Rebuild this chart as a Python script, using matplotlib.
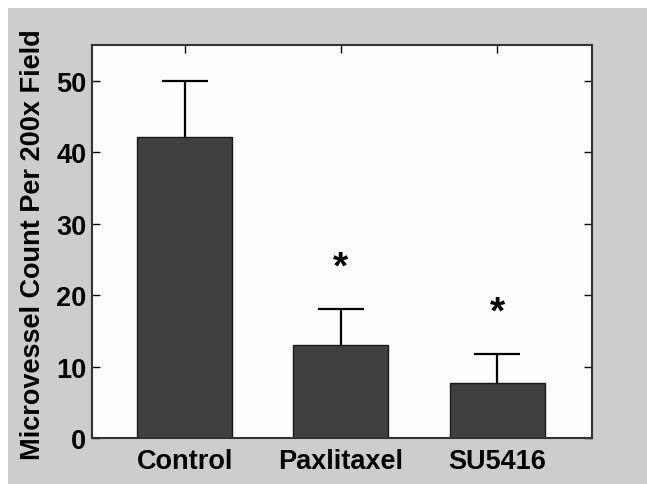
import matplotlib
matplotlib.use("Agg")
import matplotlib.pyplot as plt
from matplotlib.patches import Rectangle
import numpy as np

categories = ["Control", "Paxlitaxel", "SU5416"]
means = [42.1, 13.0, 7.7]
err_upper = [7.9, 5.0, 4.1]
star_y = [None, 23.8, 17.5]
yticks = [0, 10, 20, 30, 40, 50]
ylabel = "Microvessel Count Per 200x Field"

plt.rcParams['font.family'] = ['Liberation Sans', 'DejaVu Sans']
plt.rcParams['font.weight'] = 'bold'

W, H = 647, 485
fig = plt.figure(figsize=(W / 100, H / 100), dpi=100)
fig.patch.set_facecolor('white')
fig.patches.append(Rectangle((8 / W, 0), 1 - 8 / W, 1 - 9 / H, transform=fig.transFigure,
                             facecolor='#cdcdcd', edgecolor='none', zorder=-10))

ax = fig.add_axes([92 / W, (H - 439) / H, (592 - 92) / W, (439 - 46) / H])
ax.set_zorder(5)
ax.set_facecolor('#fdfdfd')

x = np.arange(1, len(categories) + 1)
eb = ax.errorbar(x, means, yerr=[np.zeros(len(means)), err_upper], fmt='none',
                 ecolor='black', elinewidth=1.6, capsize=16.5, capthick=1.6, zorder=1)
for cl in eb.lines[1]:
    if np.allclose(np.asarray(cl.get_ydata(), dtype=float), np.asarray(means)):
        cl.set_visible(False)
ax.bar(x, means, width=0.607, color='#404040', edgecolor='#1a1a1a', linewidth=1.0, zorder=2)

for xi, sy in zip(x, star_y):
    if sy is not None:
        ax.text(xi, sy, "*", ha='center', va='center', fontsize=28, fontweight='bold', zorder=3)

ax.set_xlim(0.407, 3.607)
ax.set_ylim(0, 55)
ax.set_yticks(yticks)
ax.set_xticks(x)
ax.set_xticklabels(categories)
ax.tick_params(axis='both', direction='in', length=6, width=1.0, labelsize=19.5, colors='black')
ax.tick_params(axis='y', right=True, left=True, pad=4)
ax.tick_params(axis='x', top=True, bottom=False, pad=7)
for lab in ax.get_xticklabels() + ax.get_yticklabels():
    lab.set_fontweight('bold')
for sp in ax.spines.values():
    sp.set_color('#333333')
    sp.set_linewidth(1.5)

fig.text(33 / W, 1 - 245 / H, ylabel, rotation=90, ha='center', va='center',
         fontsize=19.5, fontweight='bold')

fig.savefig("out.png", dpi=100)
